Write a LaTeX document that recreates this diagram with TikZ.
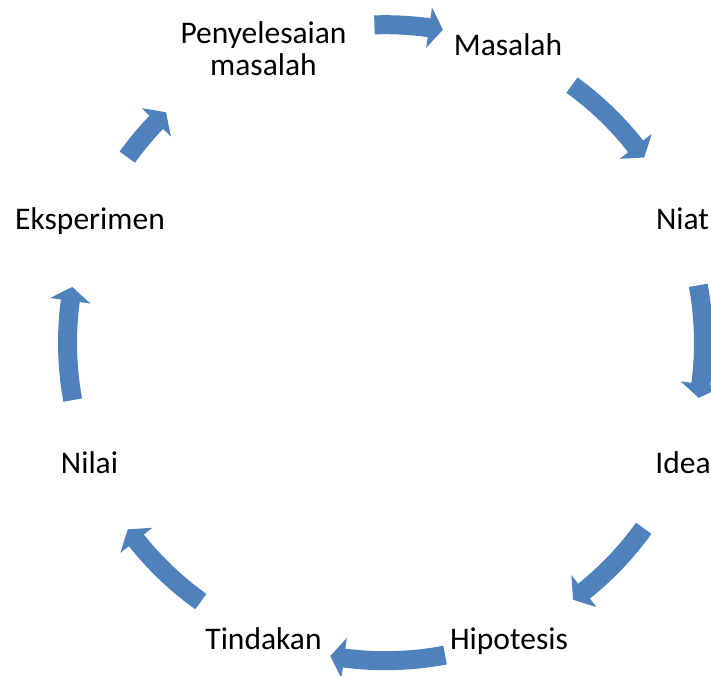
\documentclass[tikz,border=0pt]{standalone}
\usepackage{fontspec}
\setmainfont{Carlito}
\usetikzlibrary{arrows.meta,bending}

\begin{document}
\begin{tikzpicture}[x=1pt,y=1pt,yscale=-1,
  cyc/.style={color={rgb, 255:red, 79; green, 129; blue, 189 }, line width=19pt, -{Triangle[width=40pt,length=14pt,bend]}},
  lbl/.style={font=\fontsize{31.5}{32}\selectfont, inner sep=0pt, anchor=base, align=center}]
\useasboundingbox (0,0) rectangle (711,675);
\coordinate (c) at (385.5,342.7);

%Labels
\node[lbl] (pen) at (263.5,75) {Penyelesaian\\masalah};
\node[lbl] (mas) at (508,55) {Masalah};
\node[lbl] (niat) at (682.5,229) {Niat};
\node[lbl] (idea) at (683,473) {Idea};
\node[lbl] (hip) at (509,649) {Hipotesis};
\node[lbl] (tin) at (263.5,649) {Tindakan};
\node[lbl] (nil) at (89.5,473) {Nilai};
\node[lbl] (eks) at (90,229) {Eksperimen};

%Shape: Arc, penyelesaian -> masalah
\draw[cyc] ([shift={(-92:318)}]c) arc[start angle=-92, end angle=-79.6, radius=318];
%Shape: Arc, masalah -> niat
\draw[cyc] ([shift={(-54.1:318)}]c) arc[start angle=-54.1, end angle=-35.6, radius=318];
%Shape: Arc, niat -> idea
\draw[cyc] ([shift={(-10.4:318)}]c) arc[start angle=-10.4, end angle=10, radius=318];
%Shape: Arc, idea -> hipotesis
\draw[cyc] ([shift={(35.7:318)}]c) arc[start angle=35.7, end angle=53.9, radius=318];
%Shape: Arc, hipotesis -> tindakan
\draw[cyc] ([shift={(79.2:318)}]c) arc[start angle=79.2, end angle=100, radius=318];
%Shape: Arc, tindakan -> nilai
\draw[cyc] ([shift={(125.5:318)}]c) arc[start angle=125.5, end angle=144.1, radius=318];
%Shape: Arc, nilai -> eksperimen
\draw[cyc] ([shift={(169.6:318)}]c) arc[start angle=169.6, end angle=190.1, radius=318];
%Shape: Arc, eksperimen -> penyelesaian
\draw[cyc] ([shift={(-144.3:318)}]c) arc[start angle=-144.3, end angle=-133.6, radius=318];

\end{tikzpicture}
\end{document}
